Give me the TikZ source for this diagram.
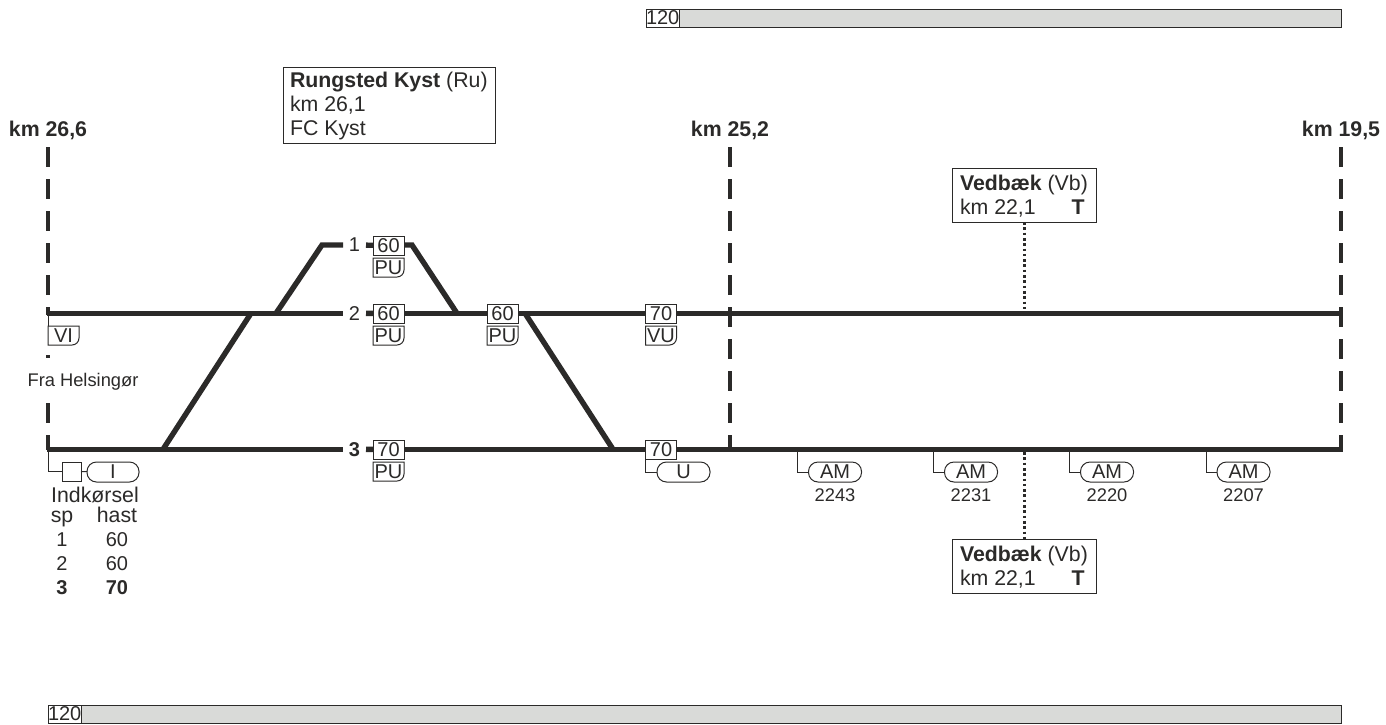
\documentclass[tikz,border=0pt]{standalone}
\usepackage{fontspec}
\setmainfont{Liberation Sans}
\definecolor{ink}{HTML}{2B2A29}
\definecolor{barfill}{HTML}{D9DAD8}
\newcommand{\fs}{\fontsize{21.3}{24}\selectfont}
\newcommand{\fb}{\fontsize{20}{24}\selectfont}
\tikzset{
  x=1pt,y=-1pt,
  every node/.style={text=ink,font=\fs,inner sep=0pt,outer sep=0pt},
  track/.style={draw=ink,line width=5.4pt},
  border/.style={draw=ink,line width=4.4pt,dash pattern=on 20pt off 12pt},
  thin line/.style={draw=ink,line width=1pt},
  dots/.style={draw=ink,line width=2.6pt,dash pattern=on 2.6pt off 2.7pt},
  speed/.style={draw=ink,line width=1pt,fill=white,font=\fb,minimum width=31pt,minimum height=19pt},
  ubox/.style={font=\fb,minimum width=31pt,minimum height=19pt},
  pill/.style={draw=ink,line width=1pt,fill=white,font=\fb,rounded corners=9.5pt,minimum width=53pt,minimum height=20pt},
  info/.style={draw=ink,line width=1pt,fill=white},
  tracknum/.style={fill=white,font=\fb,minimum width=23pt,minimum height=20pt},
  small/.style={font=\fontsize{18.3}{22}\selectfont},
  kmlabel/.style={font=\fs\bfseries,anchor=base},
  barbody/.style={draw=ink,line width=1pt,fill=barfill},
  barnum/.style={draw=ink,line width=1pt,fill=white,font=\fb,minimum width=33pt,minimum height=18pt},
}
\newcommand{\ubx}[4]{%
  \node[ubox] (#1) at (#2,#3) {};
  \draw[thin line,fill=white] (#1.north west) -- (#1.north east)
    -- ([yshift=7pt]#1.south east) arc[start angle=0,end angle=-90,radius=7pt]
    -- (#1.south west) -- cycle;
  \node[ubox] at (#1) {#4};}
\begin{document}
\begin{tikzpicture}
\useasboundingbox (0,0) rectangle (1386,724);
% km boundaries
\coordinate (wt) at (48,147);  \coordinate (wb) at (48,450);
\coordinate (mt) at (730,147); \coordinate (mb) at (730,450);
\coordinate (et) at (1341,147);\coordinate (eb) at (1341,450);
\draw[border] (wt) -- (wb);
\draw[border] (mt) -- (mb);
\draw[border] (et) -- (eb);
\node[kmlabel] (km1) at (48,136) {km 26,6};
\node[kmlabel] (km2) at (730,136) {km 25,2};
\node[kmlabel] (km3) at (1341,136) {km 19,5};
% erased parts of the left boundary
\fill[white] (44,315) rectangle (52,355);
\fill[white] (23,358) rectangle (143,403);
% track ends and junctions
\coordinate (w2) at (46.5,313.3); \coordinate (e2) at (1343,313.3);
\coordinate (w3) at (46.5,449.3); \coordinate (e3) at (1343,449.3);
\coordinate (ja) at (163,449.3); \coordinate (jb) at (251,313.3);
\coordinate (jc) at (276,313.3); \coordinate (jd) at (322,245);
\coordinate (je) at (412,245); \coordinate (jf) at (457,313.3);
\coordinate (jg) at (525,313.3); \coordinate (jh) at (613,449.3);
\node[tracknum] (n1) at (354.5,245) {1};
\node[tracknum] (n2) at (354.5,313.3) {2};
\node[tracknum,font=\fb\bfseries] (n3) at (354.5,449.3) {3};
\node[speed] (s1) at (388.5,245.5) {};
\node[speed] (s2) at (388.5,313.5) {};
\node[speed] (s3) at (502.5,313.5) {};
\node[speed] (s4) at (661,313.5) {};
\node[speed] (s5) at (388.5,449.5) {};
\node[speed] (s6) at (661,449.5) {};
\draw[track,line join=miter] (ja) -- (jb);
\draw[track,line join=miter] (jc) -- (jd) -- (n1);
\draw[track] (n1) -- (s1);
\draw[track,line join=miter] (s1.east |- je) -- (je) -- (jf);
\draw[track] (jg) -- (jh);
\draw[track] (w2) -- (n2);
\draw[track] (n2) -- (s2);
\draw[track] (s2.east |- e2) -- (e2);
\draw[track] (w3) -- (n3);
\draw[track] (n3) -- (s5);
\draw[track] (s5.east |- e3) -- (e3);
\foreach \n/\v in {s1/60,s2/60,s3/60,s4/70,s5/70,s6/70} {
  \draw[thin line,fill=white] (\n.south west) rectangle (\n.north east);
  \node[font=\fb] at (\n) {\v};
}
% lower signs
\ubx{p1}{388.5}{267.5}{PU}
\ubx{p2}{388.5}{335.5}{PU}
\ubx{p3}{502.5}{335.5}{PU}
\ubx{p4}{661}{335.5}{VU}
\ubx{p5}{388.5}{471.5}{PU}
\ubx{vi}{63.5}{335.5}{VI}
\draw[thin line] (48,313) -- (vi.north west);
% Fra Helsingor
\node[small,anchor=base] (fra) at (83,386) {Fra Helsingør};
% entry signal
\node[draw=ink,line width=1pt,minimum size=19pt] (sq) at (71.5,471.5) {};
\node[pill,minimum width=52pt] (pi) at (113,472) {I};
\coordinate (qa) at (48,451);
\draw[thin line] (qa) |- (sq.west);
\draw[thin line] (sq) -- (pi);
\node[anchor=base] (ind) at (95,502) {Indkørsel};
\node[anchor=base] (sp) at (62,522) {sp};
\node[anchor=base] (ha) at (117,522) {hast};
\node[anchor=base,font=\fb] (r1) at (62,546) {1};
\node[anchor=base,font=\fb] (v1) at (117,546) {60};
\node[anchor=base,font=\fb] (r2) at (62,570) {2};
\node[anchor=base,font=\fb] (v2) at (117,570) {60};
\node[anchor=base,font=\fb\bfseries] (r3) at (62,594) {3};
\node[anchor=base,font=\fb\bfseries] (v3) at (117,594) {70};
% U sign
\node[pill] (pu) at (683.5,472) {U};
\draw[thin line] (s6.south west) |- (pu.west);
% AM signs
\foreach \nm/\xa/\xb/\num in {a/797/835/2243,b/933/971/2231,c/1069/1107/2220,d/1206/1243.5/2207} {
  \coordinate (t\nm) at (\xa,451);
  \node[pill] (am\nm) at (\xb,472) {AM};
  \node[small,anchor=base] (num\nm) at (\xb,501) {\num};
  \draw[thin line] (t\nm) |- (am\nm.west);
}
% station boxes
\node[info,anchor=north west,minimum width=212pt,minimum height=76pt] (ru) at (283,67) {};
\node[anchor=base west] (rua) at (290,87) {\textbf{Rungsted Kyst} (Ru)};
\node[anchor=base west] (rub) at (290,111) {km 26,1};
\node[anchor=base west] (ruc) at (290,135) {FC Kyst};
\node[info,anchor=north west,minimum width=144pt,minimum height=54pt] (vt) at (952,168) {};
\node[anchor=base west] (vta) at (960,190) {\textbf{Vedbæk} (Vb)};
\node[anchor=base west] (vtb) at (960,214) {km 22,1};
\node[anchor=base,font=\fs\bfseries] (vtc) at (1078,214) {T};
\node[info,anchor=north west,minimum width=144pt,minimum height=54pt] (vb) at (952,539) {};
\node[anchor=base west] (vba) at (960,561) {\textbf{Vedbæk} (Vb)};
\node[anchor=base west] (vbb) at (960,585) {km 22,1};
\node[anchor=base,font=\fs\bfseries] (vbc) at (1078,585) {T};
\coordinate (dt) at (1024.5,311); \coordinate (db) at (1024.5,452);
\draw[dots] (vt.south -| dt) -- (dt);
\draw[dots] (db) -- (vb.north -| db);
% speed bars
\node[barbody,anchor=north west,minimum width=695pt,minimum height=18pt] (bt) at (646,9) {};
\node[barnum,anchor=north west] (btn) at (646,9) {120};
\node[barbody,anchor=north west,minimum width=1293pt,minimum height=18pt] (bb) at (48,705) {};
\node[barnum,anchor=north west] (bbn) at (48,705) {120};
\end{tikzpicture}
\end{document}
